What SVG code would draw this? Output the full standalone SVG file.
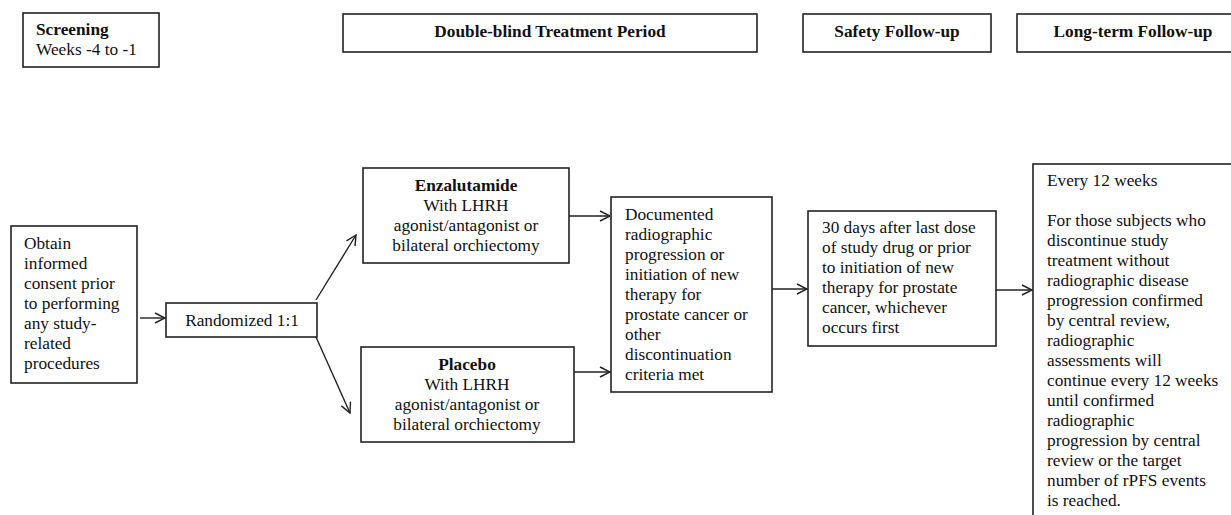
<svg xmlns="http://www.w3.org/2000/svg" width="1231" height="515" viewBox="0 0 1231 515">
  <style>
    .box { fill: #ffffff; stroke: #222222; stroke-width: 1.6; }
    .txt { font-family: "Liberation Serif", "Times New Roman", serif; font-size: 17.3px; fill: #111111; }
    .b { font-weight: bold; }
    .c { text-anchor: middle; }
    .link { fill: none; stroke: #222222; stroke-width: 1.4; marker-end: url(#open); }
  </style>
  <defs>
    <marker id="open" viewBox="0 0 12 12" refX="11" refY="6" markerWidth="12" markerHeight="12" markerUnits="userSpaceOnUse" orient="auto">
      <path d="M1,1 L11,6 L1,11" fill="none" stroke="#222222" stroke-width="1.4"/>
    </marker>
  </defs>
  <rect width="1231" height="515" fill="#ffffff"/>

  <!-- phase headers -->
  <g id="screening">
    <rect class="box" x="23" y="13" width="136" height="54"/>
    <text class="txt b" x="36" y="35">Screening</text>
    <text class="txt" x="36" y="55">Weeks -4 to -1</text>
  </g>
  <g id="double-blind">
    <rect class="box" x="343" y="14" width="414" height="38"/>
    <text class="txt b c" x="550" y="37">Double-blind Treatment Period</text>
  </g>
  <g id="safety">
    <rect class="box" x="803" y="14" width="188" height="38"/>
    <text class="txt b c" x="897" y="37">Safety Follow-up</text>
  </g>
  <g id="long-term">
    <rect class="box" x="1017" y="14" width="220" height="38"/>
    <text class="txt b c" x="1133" y="37">Long-term Follow-up</text>
  </g>

  <!-- flow nodes -->
  <g id="consent">
    <rect class="box" x="11" y="226" width="126" height="157"/>
    <text class="txt" x="24" y="249">Obtain</text>
    <text class="txt" x="24" y="269">informed</text>
    <text class="txt" x="24" y="289">consent prior</text>
    <text class="txt" x="24" y="309">to performing</text>
    <text class="txt" x="24" y="329">any study-</text>
    <text class="txt" x="24" y="349">related</text>
    <text class="txt" x="24" y="369">procedures</text>
  </g>
  <g id="randomized">
    <rect class="box" x="166" y="303" width="151" height="34"/>
    <text class="txt c" x="242" y="326">Randomized 1:1</text>
  </g>
  <g id="enzalutamide">
    <rect class="box" x="363" y="168" width="206" height="95"/>
    <text class="txt b c" x="466" y="191">Enzalutamide</text>
    <text class="txt c" x="466" y="211">With LHRH</text>
    <text class="txt c" x="466" y="231">agonist/antagonist or</text>
    <text class="txt c" x="466" y="251">bilateral orchiectomy</text>
  </g>
  <g id="placebo">
    <rect class="box" x="361" y="347" width="213" height="95"/>
    <text class="txt b c" x="467" y="370">Placebo</text>
    <text class="txt c" x="467" y="390">With LHRH</text>
    <text class="txt c" x="467" y="410">agonist/antagonist or</text>
    <text class="txt c" x="467" y="430">bilateral orchiectomy</text>
  </g>
  <g id="documented">
    <rect class="box" x="611" y="197" width="161" height="195"/>
    <text class="txt" x="625" y="220">Documented</text>
    <text class="txt" x="625" y="240">radiographic</text>
    <text class="txt" x="625" y="260">progression or</text>
    <text class="txt" x="625" y="280">initiation of new</text>
    <text class="txt" x="625" y="300">therapy for</text>
    <text class="txt" x="625" y="320">prostate cancer or</text>
    <text class="txt" x="625" y="340">other</text>
    <text class="txt" x="625" y="360">discontinuation</text>
    <text class="txt" x="625" y="380">criteria met</text>
  </g>
  <g id="thirty-days">
    <rect class="box" x="808" y="211" width="188" height="135"/>
    <text class="txt" x="822" y="233">30 days after last dose</text>
    <text class="txt" x="822" y="253">of study drug or prior</text>
    <text class="txt" x="822" y="273">to initiation of new</text>
    <text class="txt" x="822" y="293">therapy for prostate</text>
    <text class="txt" x="822" y="313">cancer, whichever</text>
    <text class="txt" x="822" y="333">occurs first</text>
  </g>
  <g id="every-12-weeks">
    <rect class="box" x="1033" y="164" width="210" height="370"/>
    <text class="txt" x="1047" y="186">Every 12 weeks</text>
    <text class="txt" x="1047" y="226">For those subjects who</text>
    <text class="txt" x="1047" y="246">discontinue study</text>
    <text class="txt" x="1047" y="266">treatment without</text>
    <text class="txt" x="1047" y="286">radiographic disease</text>
    <text class="txt" x="1047" y="306">progression confirmed</text>
    <text class="txt" x="1047" y="326">by central review,</text>
    <text class="txt" x="1047" y="346">radiographic</text>
    <text class="txt" x="1047" y="366">assessments will</text>
    <text class="txt" x="1047" y="386">continue every 12 weeks</text>
    <text class="txt" x="1047" y="406">until confirmed</text>
    <text class="txt" x="1047" y="426">radiographic</text>
    <text class="txt" x="1047" y="446">progression by central</text>
    <text class="txt" x="1047" y="466">review or the target</text>
    <text class="txt" x="1047" y="486">number of rPFS events</text>
    <text class="txt" x="1047" y="506">is reached.</text>
  </g>

  <!-- connectors -->
  <g id="connectors">
    <line class="link" x1="140" y1="318" x2="165" y2="318"/>
    <line class="link" x1="316" y1="300" x2="356" y2="235"/>
    <line class="link" x1="316" y1="337" x2="350" y2="413"/>
    <line class="link" x1="569" y1="216" x2="610" y2="216"/>
    <line class="link" x1="574" y1="372" x2="610" y2="372"/>
    <line class="link" x1="772" y1="289" x2="807" y2="289"/>
    <line class="link" x1="996" y1="290" x2="1032" y2="290"/>
  </g>
</svg>
